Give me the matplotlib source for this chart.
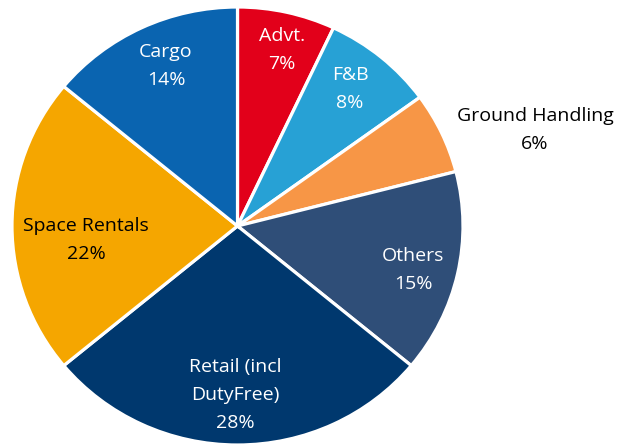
import matplotlib
matplotlib.use("Agg")
import matplotlib.pyplot as plt

categories = ["Advt.", "F&B", "Ground Handling", "Others", "Retail (incl\nDutyFree)", "Space Rentals", "Cargo"]
values = [7, 8, 6, 15, 28, 22, 14]
colors = ["#E2001A", "#27A1D5", "#F79646", "#2F4E78", "#00386E", "#F5A600", "#0A64B0"]
text_colors = ["white", "white", "black", "white", "white", "black", "white"]
# label centers in pixels (x, y from top)
label_pos = [(282, 50), (350, 89), (535, 130), (413, 270), (235, 395), (86, 240), (166, 66)]

W, H = 623, 445
fig = plt.figure(figsize=(W / 100, H / 100), dpi=100)
cx, cy, rx, ry = 237.5, 226, 225.5, 219
ax = fig.add_axes([(cx - rx) / W, 1 - (cy + ry) / H, 2 * rx / W, 2 * ry / H])
ax.pie(values, colors=colors, startangle=90, counterclock=False,
       wedgeprops=dict(edgecolor="white", linewidth=2.3))
ax.set_xlim(-1, 1)
ax.set_ylim(-1, 1)
ax.set_aspect("auto")
ax.axis("off")

for cat, v, tc, (px, py) in zip(categories, values, text_colors, label_pos):
    fig.text(px / W, 1 - py / H, f"{cat}\n{v}%", color=tc, ha="center", va="center",
             fontsize=14, family="Open Sans", linespacing=1.7)

fig.savefig("out.png", dpi=100)
